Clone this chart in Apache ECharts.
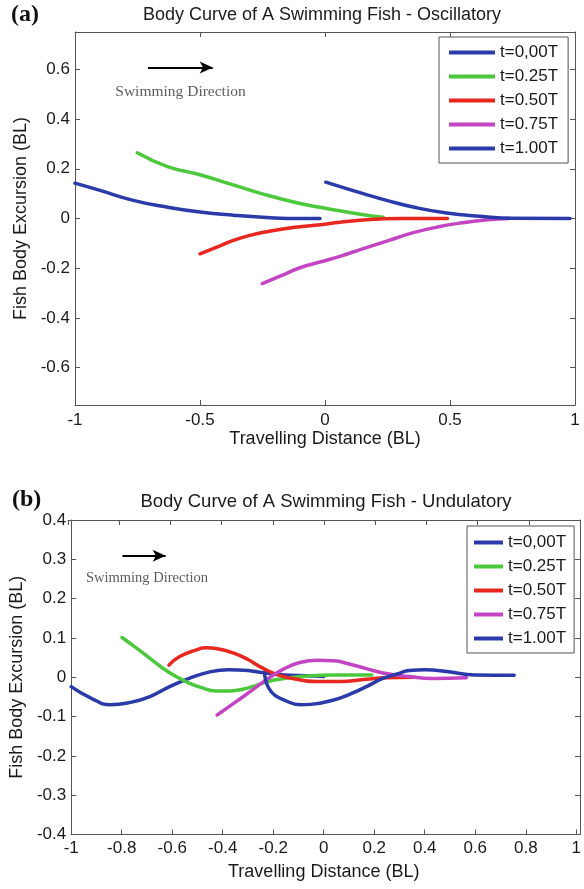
<!DOCTYPE html>
<html>
<head>
<meta charset="utf-8">
<script src="https://cdn.jsdelivr.net/npm/echarts@6/dist/echarts.min.js"></script>
<style>
html,body{margin:0;padding:0;background:#fff;}
#chart{width:584px;height:889px;}
</style>
</head>
<body>
<div id="chart"></div>
<script>
// ---------- Data ----------
var seriesNames = ['t=0,00T', 't=0.25T', 't=0.50T', 't=0.75T', 't=1.00T'];
var seriesColors = ['#2a3aa8', '#4cc83c', '#e8271f', '#c445c4', '#2a3aa8'];

// (a) Oscillatory  [x, y]
var oscT000 = [[-1,0.142],[-0.9,0.113],[-0.767,0.073],[-0.633,0.046],[-0.5,0.026],[-0.367,0.013],[-0.233,0.004],[-0.1,0.0],[-0.02,0.0]];
var oscT025 = [[-0.751,0.264],[-0.633,0.21],[-0.5,0.176],[-0.367,0.135],[-0.233,0.094],[-0.1,0.06],[-0.02,0.045],[0.087,0.026],[0.16,0.014],[0.233,0.005]];
var oscT050 = [[-0.5,-0.142],[-0.42,-0.11],[-0.367,-0.088],[-0.3,-0.068],[-0.233,-0.053],[-0.16,-0.041],[-0.1,-0.033],[-0.02,-0.025],[0.06,-0.015],[0.14,-0.007],[0.22,-0.002],[0.3,0.0],[0.49,0.0]];
var oscT075 = [[-0.251,-0.262],[-0.18,-0.232],[-0.1,-0.198],[-0.02,-0.175],[0.06,-0.152],[0.15,-0.122],[0.25,-0.09],[0.35,-0.058],[0.45,-0.034],[0.55,-0.017],[0.65,-0.005],[0.735,0.0]];
var oscT100 = [[0.003,0.146],[0.08,0.122],[0.153,0.1],[0.25,0.072],[0.353,0.046],[0.487,0.022],[0.62,0.009],[0.75,0.001],[0.98,0.0]];

// (b) Undulatory  [x, y]
var undT000 = [[-1,-0.024],[-0.922,-0.053],[-0.845,-0.070],[-0.766,-0.064],[-0.688,-0.049],[-0.61,-0.024],[-0.533,-0.003],[-0.455,0.013],[-0.377,0.019],[-0.299,0.017],[-0.247,0.012],[-0.156,0.006],[-0.065,0.004],[0.0,0.002]];
var undT025 = [[-0.799,0.101],[-0.741,0.074],[-0.688,0.048],[-0.637,0.023],[-0.585,0.002],[-0.533,-0.015],[-0.481,-0.027],[-0.429,-0.035],[-0.377,-0.035],[-0.325,-0.031],[-0.273,-0.022],[-0.221,-0.011],[-0.156,-0.003],[-0.091,0.002],[0.039,0.006],[0.19,0.006]];
var undT050 = [[-0.613,0.031],[-0.572,0.052],[-0.507,0.069],[-0.468,0.075],[-0.416,0.072],[-0.351,0.060],[-0.3,0.045],[-0.247,0.025],[-0.182,0.006],[-0.091,-0.007],[-0.026,-0.011],[0.065,-0.011],[0.169,-0.005],[0.247,-0.001],[0.36,0.0]];
var undT075 = [[-0.422,-0.096],[-0.351,-0.064],[-0.286,-0.034],[-0.221,-0.004],[-0.156,0.022],[-0.091,0.038],[-0.026,0.043],[0.039,0.042],[0.104,0.033],[0.169,0.022],[0.234,0.011],[0.338,0.002],[0.429,-0.003],[0.565,-0.001]];
var undT100 = [[-0.234,0.006],[-0.208,-0.037],[-0.156,-0.058],[-0.091,-0.070],[-0.052,-0.069],[0.039,-0.058],[0.104,-0.043],[0.169,-0.024],[0.234,-0.003],[0.299,0.010],[0.338,0.017],[0.403,0.019],[0.494,0.014],[0.598,0.006],[0.754,0.005]];

// Tick labels
var xTicksA = [-1, -0.5, 0, 0.5, 1];
var yTicksA = [-0.6, -0.4, -0.2, 0, 0.2, 0.4, 0.6];
var xTicksB = [-1, -0.8, -0.6, -0.4, -0.2, 0, 0.2, 0.4, 0.6, 0.8, 1];
var yTicksB = [-0.4, -0.3, -0.2, -0.1, 0, 0.1, 0.2, 0.3, 0.4];

// Annotations (data coordinates)
var arrowA = [[-0.708, 0.607], [-0.449, 0.607]];
var arrowTextA = [-0.578, 0.511];
var arrowB = [[-0.797, 0.309], [-0.626, 0.309]];
var arrowTextB = [-0.70, 0.252];

// ---------- Chart ----------
var SANS = '"Liberation Sans", Arial, sans-serif';
var SERIF = '"Liberation Serif", "Times New Roman", serif';
var AX = '#555';
var TXT = '#1a1a1a';

function mkX(gi, ticks, pos, showLabel, margin, name, nameGap) {
  return {
    type: 'value', gridIndex: gi, position: pos,
    min: -1, max: 1,
    axisLine: {show: true, onZero: false, lineStyle: {color: AX, width: 1}},
    axisTick: {show: true, inside: true, length: 5, customValues: ticks, lineStyle: {color: AX}},
    axisLabel: {show: showLabel, customValues: ticks, margin: margin, fontSize: 17, fontFamily: SANS, color: TXT},
    splitLine: {show: false},
    name: name || '', nameLocation: 'middle', nameGap: nameGap || 0,
    nameTextStyle: {fontSize: 18, fontFamily: SANS, color: TXT}
  };
}
function mkY(gi, ticks, mn, mx, pos, showLabel, name, nameGap) {
  return {
    type: 'value', gridIndex: gi, position: pos,
    min: mn, max: mx,
    axisLine: {show: true, onZero: false, lineStyle: {color: AX, width: 1}},
    axisTick: {show: true, inside: true, length: 5, customValues: ticks, lineStyle: {color: AX}},
    axisLabel: {show: showLabel, customValues: ticks, margin: 5, fontSize: 17, fontFamily: SANS, color: TXT},
    splitLine: {show: false},
    name: name || '', nameLocation: 'middle', nameGap: nameGap || 0, nameRotate: 90,
    nameTextStyle: {fontSize: 18, fontFamily: SANS, color: TXT}
  };
}

var oscData = [oscT000, oscT025, oscT050, oscT075, oscT100];
var undData = [undT000, undT025, undT050, undT075, undT100];

var series = [];
function addCurves(dataList, xi, yi) {
  dataList.forEach(function (d, i) {
    series.push({
      type: 'line', name: seriesNames[i], xAxisIndex: xi, yAxisIndex: yi,
      data: d, showSymbol: false, smooth: 0.5,
      color: seriesColors[i],
      lineStyle: {width: 3.5, color: seriesColors[i], cap: 'round', join: 'round'},
      animation: false, silent: true
    });
  });
}
addCurves(oscData, 0, 0);
addCurves(undData, 2, 2);

function addArrow(arrow, txtPos, xi, yi, fs) {
  series.push({
    type: 'line', name: 'arrow', xAxisIndex: xi, yAxisIndex: yi, data: [],
    silent: true, animation: false,
    markLine: {
      silent: true, animation: false,
      symbol: ['none', 'arrow'], symbolSize: [9, 13],
      label: {show: false},
      lineStyle: {color: '#000', width: 2, type: 'solid'},
      data: [[{coord: arrow[0]}, {coord: arrow[1]}]]
    }
  });
  series.push({
    type: 'scatter', name: 'arrowText', xAxisIndex: xi, yAxisIndex: yi,
    data: [txtPos], symbolSize: 0, silent: true, animation: false,
    label: {show: true, position: 'inside', formatter: 'Swimming Direction',
      fontFamily: SERIF, fontSize: fs, color: '#333'}
  });
}
addArrow(arrowA, arrowTextA, 0, 0, 15.5);
addArrow(arrowB, arrowTextB, 2, 2, 14.5);

function mkLegend(left, top, itemWidth, padding) {
  return {
    orient: 'vertical', left: left, top: top, data: seriesNames,
    icon: 'rect', itemWidth: itemWidth, itemHeight: 4, itemGap: 7,
    padding: padding, borderColor: '#555', borderWidth: 1, backgroundColor: '#fff',
    selectedMode: false,
    textStyle: {fontSize: 17, fontFamily: SANS, color: TXT}
  };
}

var option = {
  backgroundColor: '#fff',
  animation: false,
  grid: [
    {left: 75, top: 32, width: 500, height: 373},
    {left: 75, top: 32, width: 500, height: 373},
    {left: 68, top: 520, width: 512, height: 314.5},
    {left: 68, top: 520, width: 512, height: 314.5}
  ],
  xAxis: [
    mkX(0, xTicksA, 'bottom', true, 6.5, 'Travelling Distance (BL)', 25),
    mkX(1, xTicksA, 'top', false, 0),
    mkX(2, xTicksB, 'bottom', true, 5.5, 'Travelling Distance (BL)', 29),
    mkX(3, xTicksB, 'top', false, 0)
  ],
  yAxis: [
    mkY(0, yTicksA, -0.75, 0.75, 'left', true, 'Fish Body Excursion (BL)', 42),
    mkY(1, yTicksA, -0.75, 0.75, 'right', false),
    mkY(2, yTicksB, -0.4, 0.4, 'left', true, 'Fish Body Excursion (BL)', 41),
    mkY(3, yTicksB, -0.4, 0.4, 'right', false)
  ],
  legend: [
    mkLegend(439, 37, 46, [7, 10, 6, 10]),
    mkLegend(467, 526, 29, [8, 8, 6, 7])
  ],
  graphic: [
    {type: 'text', silent: true, style: {text: 'Body Curve of A Swimming Fish - Oscillatory', x: 322, y: 15, align: 'center', verticalAlign: 'middle', font: '18px ' + SANS, fill: TXT}},
    {type: 'text', silent: true, style: {text: 'Body Curve of A Swimming Fish - Undulatory', x: 326, y: 502, align: 'center', verticalAlign: 'middle', font: '18.5px ' + SANS, fill: TXT}},
    {type: 'text', silent: true, style: {text: '(a)', x: 11, y: 15, align: 'left', verticalAlign: 'middle', font: 'bold 24px ' + SERIF, fill: '#111'}},
    {type: 'text', silent: true, style: {text: '(b)', x: 12, y: 500, align: 'left', verticalAlign: 'middle', font: 'bold 24px ' + SERIF, fill: '#111'}}
  ],
  series: series
};

var chart = echarts.init(document.getElementById('chart'), null, {renderer: 'canvas'});
chart.setOption(option);
</script>
</body>
</html>
